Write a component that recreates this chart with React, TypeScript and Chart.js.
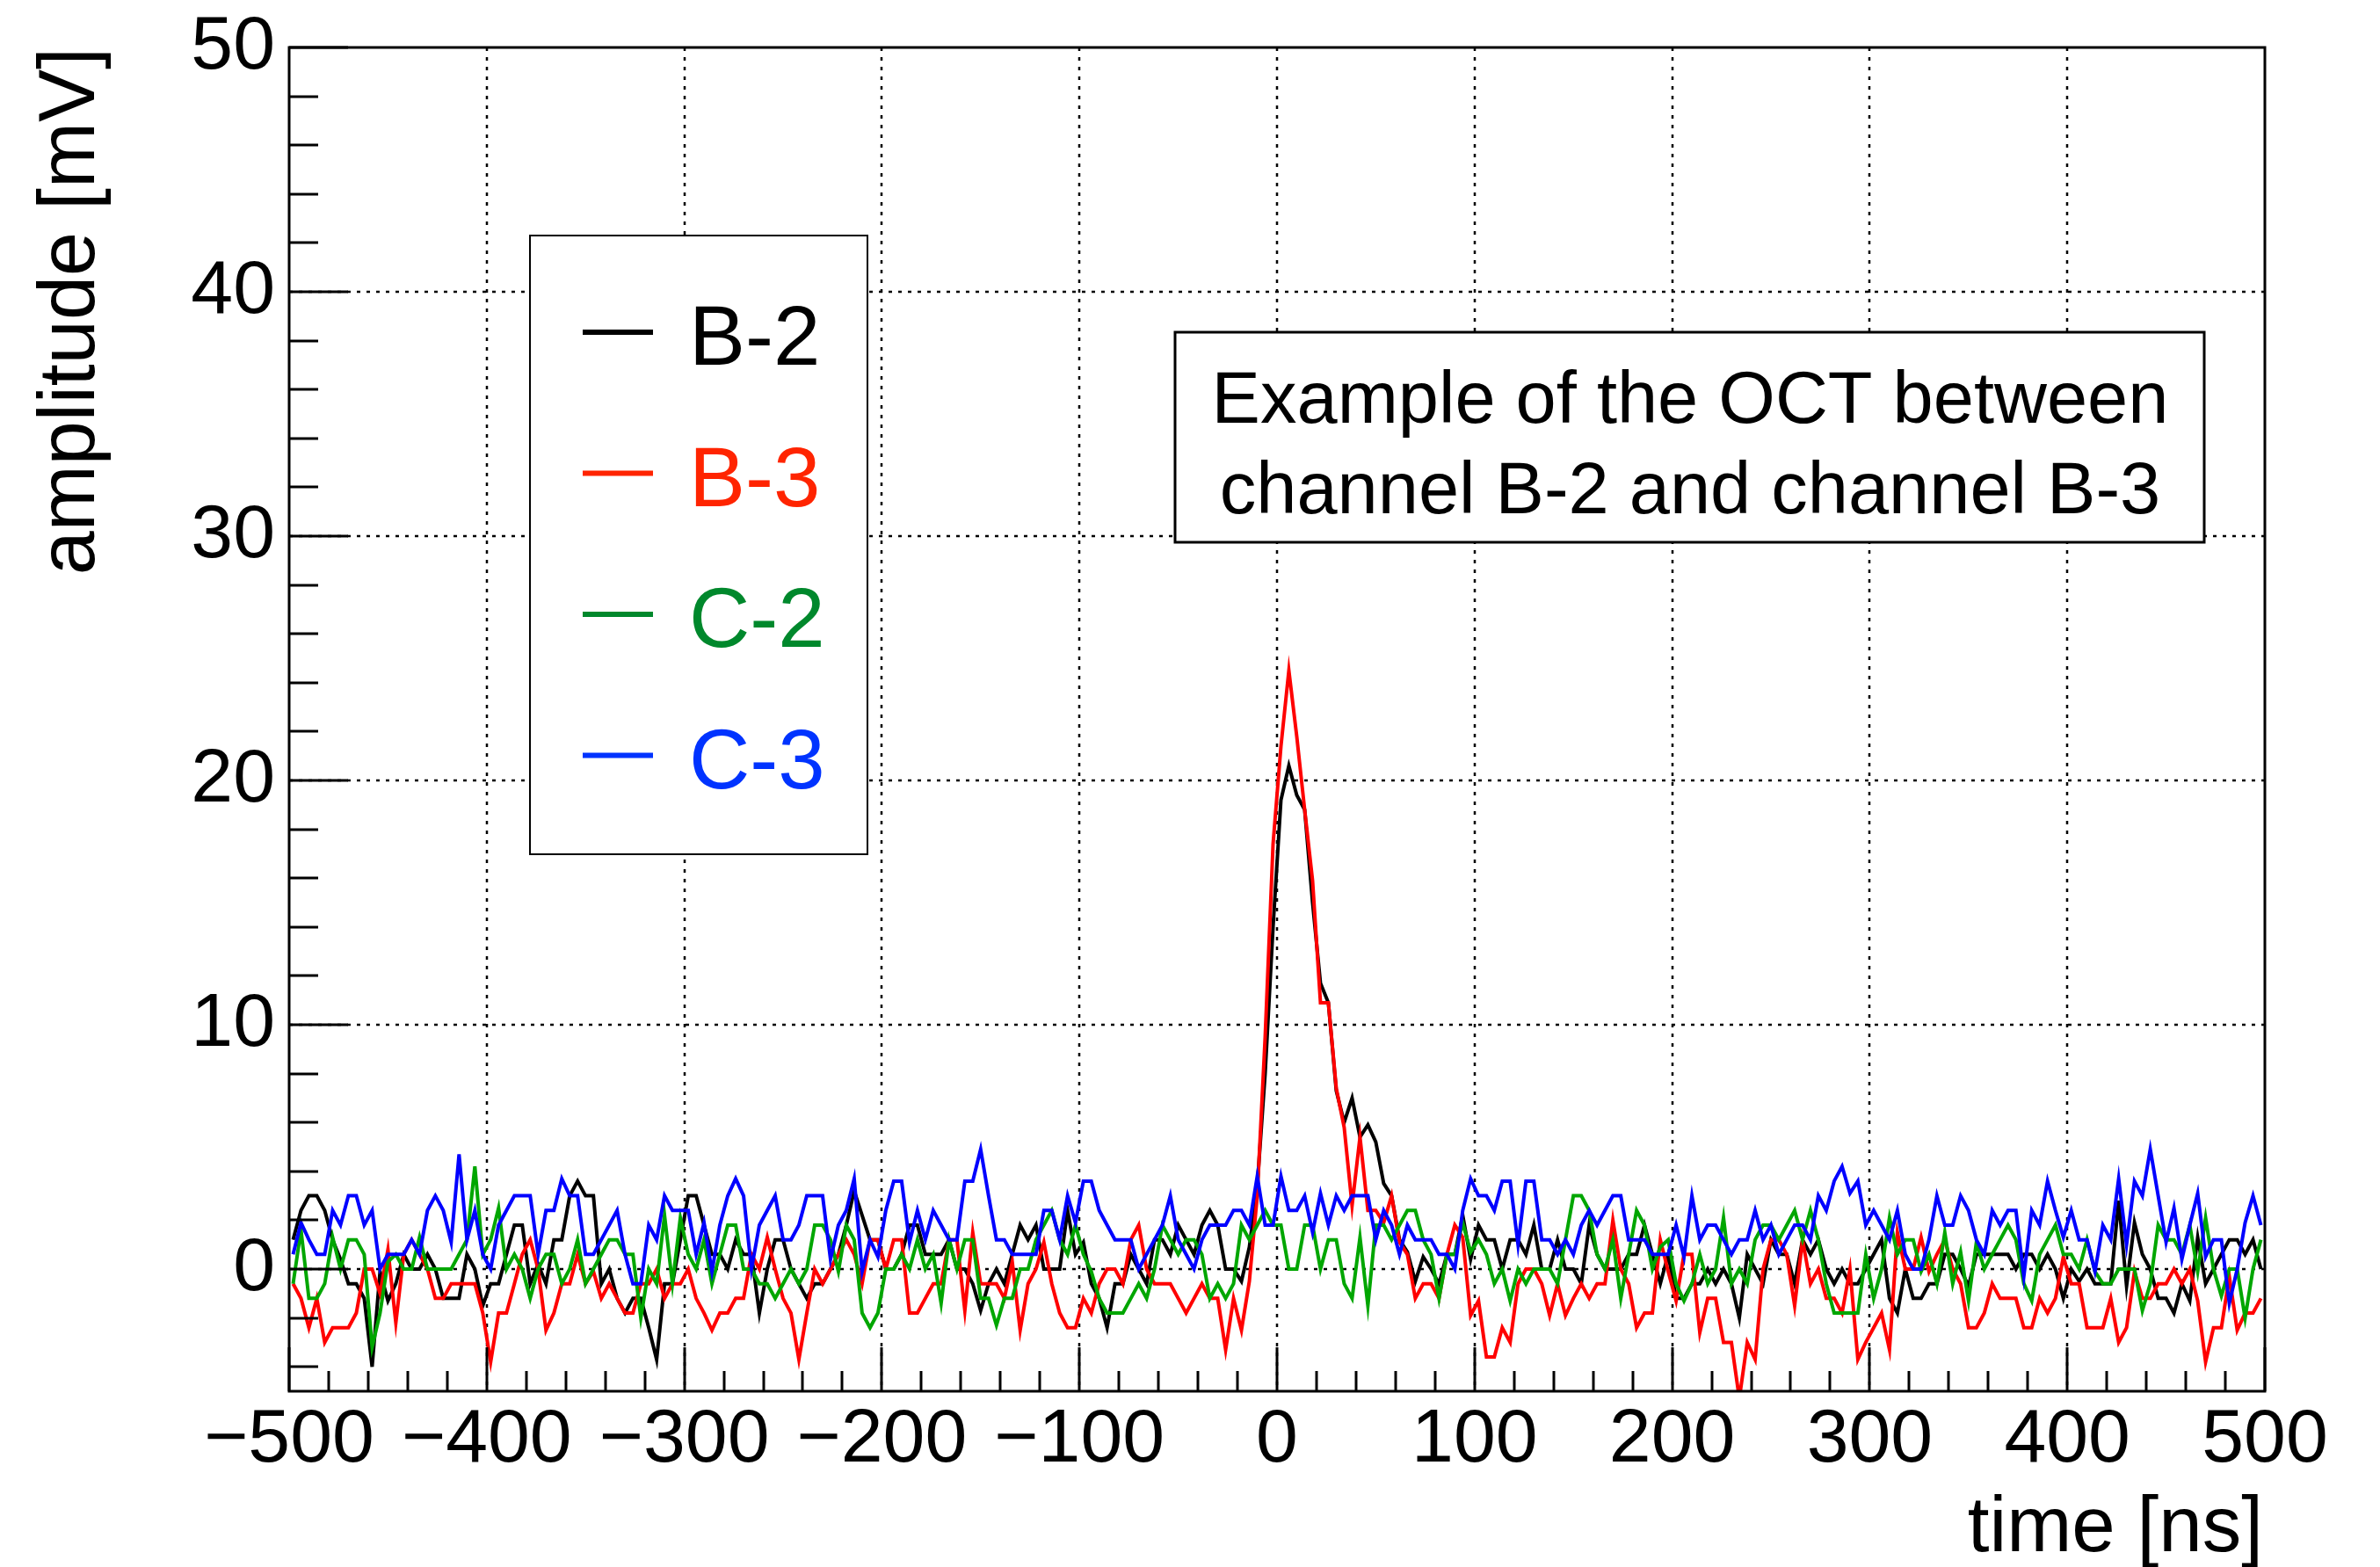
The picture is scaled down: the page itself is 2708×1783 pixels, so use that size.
import { useEffect, useRef } from "react";
import { Chart, registerables } from "chart.js";

Chart.register(...registerables);

// ---- sampling grid (bin centres, 4 ns bins from -500 to 500 ns) ----
const TIME_START_NS = -498;
const TIME_STEP_NS = 4;

// ---- series values [mV] ----
const B2 = [
  1.2, 2.4, 3.0, 3.0, 2.4, 1.2, 0.4, -0.6, -0.6, -1.2, -4.0, -0.1, -1.3, -0.6, 0.6, 0, 0, 0.6, 0, -1.2, -1.2, -1.2, 0.6, 0, -1.5, -0.6, -0.6, 0.6, 1.8, 1.8, -0.6, 0.2,
  -0.6, 1.2, 1.2, 3.0, 3.6, 3.0, 3.0, -0.6, 0, -1.2, -1.8, -1.2, -1.2, -2.4, -3.7, -0.6, -0.6, 1.2, 3.0, 3.0, 1.8, 0.6, 0.6, 0, 1.2, 0.6, 0.6, -1.8, 0, 1.2, 1.2,
  0, -0.6, -1.2, -0.6, -0.6, 0, 0.6, 1.8, 3.2, 2.2, 1.2, 1.2, 0, 0, 0.6, 1.8, 1.8, 0.6, 0.6, 0.6, 1.2, 0, 0, -0.6, -1.7, -0.6, 0, -0.6, 0.6, 1.8, 1.2,
  1.8, 0, 0, 0, 2.4, 0.6, 1.1, -0.6, -1.2, -2.4, -0.6, -0.6, 0.6, 0, -0.6, 1.2, 1.2, 0.6, 1.8, 1.2, 0.6, 1.8, 2.4, 1.8, 0, 0,
  -0.5, 0.9, 3.4, 8.0, 14.0, 19.2, 20.6, 19.4, 18.8, 15.0, 11.7, 10.9, 7.3, 6.0, 7.0, 5.4, 5.9, 5.2, 3.5, 3.0, 1.2, 0.7, -0.5, 0.5,
  0, -0.6, 0.6, 0.6, 2.2, 0.4, 1.8, 1.2, 1.2, 0, 1.2, 1.2, 0.6, 1.8, 0, 0, 1.2, 0, 0, -0.6, 1.8, 0.6, 0, 0, 0, 0.6, 0.6, 1.8, 0.6, -0.6,
  0.6, -1.2, -1.2, -0.6, -0.6, 0, -0.6, 0, -0.6, -2.0, 0.6, 0, -0.6, 1.2, 0.6, 0.6, -0.6, 1.2, 0.6, 1.2, 0, -0.6, 0, -0.6, -0.6, 0, 0.6, 1.2, -1.2, -1.8, 0,
  -1.2, -1.2, -0.6, -0.6, 0.6, 0.6, 0, -0.7, 0.6, 0.6, 0.6, 0.6, 0.6, 0, 0.6, 0.6, 0, 0.6, 0, -1.2, 0, -0.5, 0, -0.6, -0.6, -0.6, 2.8, -0.7, 1.9, 0.6, 0,
  -1.2, -1.2, -1.8, -0.6, -1.3, 1.3, -0.6, 0, 0.6, 1.2, 1.2, 0.6, 1.2, 0,
];

const B3 = [
  -0.6, -1.2, -2.4, -1.2, -3.0, -2.4, -2.4, -2.4, -1.8, 0, 0, -1.0, 0.8, -2.2, 0.6, 1.2, 0.6, 0, -1.2, -1.2, -0.6, -0.6, -0.6, -0.6, -1.8, -3.8, -1.8, -1.8, -0.6, 0.6, 1.2, 0,
  -2.5, -1.8, -0.6, -0.6, 0.6, -0.6, -0.1, -1.2, -0.6, -1.2, -1.8, -1.8, -0.6, -0.6, 0, -1.2, -0.6, -0.6, 0, -1.2, -1.8, -2.5, -1.8, -1.8, -1.2, -1.2, 0.6, 0, 1.3, 0, -1.2,
  -1.8, -3.7, -1.8, 0, -0.6, 0, 0.6, 1.2, 0.6, -0.6, 1.2, 1.2, 0, 1.2, 1.2, -1.8, -1.8, -1.2, -0.6, -0.6, 1.2, 1.2, -1.7, 1.5, -0.6, -0.6, -0.6, -1.2, 0.3, -2.5, -0.6,
  0, 1.1, -0.6, -1.8, -2.4, -2.4, -1.2, -1.8, -0.6, 0, 0, -0.6, 1.2, 1.8, 0, -0.6, -0.6, -0.6, -1.2, -1.8, -1.2, -0.6, -1.2, -1.2, -3.3, -1.2,
  -2.5, -0.5, 3.0, 9.5, 17.4, 21.4, 24.5, 21.8, 18.8, 15.9, 10.9, 10.9, 7.4, 5.8, 2.6, 5.4, 2.4, 2.4, 1.9, 3.0, 1.1, 0.6, -1.2, -0.6,
  -0.6, -1.2, 0.6, 1.8, 1.3, -1.9, -1.3, -3.6, -3.6, -2.4, -3.0, -0.6, 0, 0, -0.6, -1.9, -0.6, -1.9, -1.2, -0.6, -1.2, -0.6, -0.6, 2.0, 0, -0.6, -2.4, -1.8, -1.8, 1.2,
  -0.1, -1.3, 0.6, 0.6, -2.6, -1.2, -1.2, -3.0, -3.0, -5.3, -3.0, -3.7, 0, 1.2, 1.2, 0.6, -1.5, 1.2, -0.6, 0, -1.2, -1.2, -1.8, 0, -3.7, -3.0, -2.4, -1.8, -3.3, 1.5, 0,
  0, 1.3, -0.1, 0.6, 1.2, 0, -0.6, -2.4, -2.4, -1.8, -0.6, -1.2, -1.2, -1.2, -2.4, -2.4, -1.2, -1.8, -1.2, 0.5, -0.6, -0.6, -2.4, -2.4, -2.4, -1.2, -3.0, -2.4, -0.1, -1.2, -1.2,
  -0.6, -0.6, 0, -0.6, 0, -1.3, -3.8, -2.4, -2.4, -0.3, -2.5, -1.8, -1.8, -1.2,
];

const C2 = [
  -0.6, 1.6, -1.2, -1.2, -0.6, 1.3, 0, 1.2, 1.2, 0.6, -3.2, -1.8, 0.3, 0.6, 0, 0, 1.3, 0, 0, 0, 0, 0.6, 1.2, 4.2, 0.6, 1.2, 2.5, 0, 0.6, 0, -1.2, 0,
  0.6, 0.6, -0.6, 0, 1.2, -0.6, 0, 0.6, 1.2, 1.2, 0.6, 0.6, -2.0, 0, -0.6, 2.2, -0.6, 2.1, 0.6, 0, 1.2, -0.6, 0.6, 1.8, 1.8, 0, 0, -0.6, -0.6, -1.2, -0.6,
  0, -0.6, 0, 1.8, 1.8, 1.2, -0.1, 1.8, 1.2, -1.8, -2.4, -1.8, 0, 0, 0.6, 0, 1.2, 0, 0.6, -1.4, 1.2, 0, 1.2, 1.2, -1.2, -1.2, -2.3, -1.2, -1.2, 0, 0,
  1.2, 1.8, 2.4, 1.2, 0.6, 1.8, 0.6, -0.1, -1.2, -1.8, -1.8, -1.8, -1.2, -0.6, -1.2, 0, 1.8, 1.2, 0.6, 1.2, 1.2, 0.6, -1.2, -0.6, -1.2, -0.6,
  1.8, 1.2, 1.8, 2.4, 1.8, 1.8, 0, 0, 1.8, 1.8, 0, 1.2, 1.2, -0.6, -1.2, 1.3, -1.5, 1.8, 1.8, 1.2, 1.8, 2.4, 2.4, 1.2,
  0.6, -1.2, 0.6, 0.6, 1.9, 0.7, 1.2, 0.6, -0.6, 0, -1.3, 0, -0.6, 0, 0, 0, -0.6, 1.2, 3.0, 3.0, 2.4, 0.6, 0, 1.2, -1.2, 0.6, 2.4, 1.8, 0, 0.9,
  1.2, -0.6, -1.3, -0.6, 0.6, -0.6, 0, 2.1, -0.6, 0, -0.6, 1.2, 1.8, 1.8, 1.2, 1.8, 2.4, 1.2, 2.4, 1.2, -0.6, -1.8, -1.8, -1.8, -1.8, 0.6, -1.2, 0, 2.1, 0.6, 1.2,
  1.2, -0.1, 0.6, -0.6, 1.5, -0.6, 0.7, -1.3, 1.1, 0, 0.6, 1.2, 1.8, 1.2, -0.6, -1.3, 0.6, 1.2, 1.8, 0.6, 0.6, 0, 1.2, -0.1, -0.6, -0.6, 0, 0, 0, -1.7, -0.6,
  1.8, 1.2, 1.2, 0.6, 1.8, -0.1, 2.1, 0, -1.1, 0, 0, -2.0, 0, 1.2,
];

const C3 = [
  0.6, 1.9, 1.2, 0.6, 0.6, 2.4, 1.8, 3.0, 3.0, 1.8, 2.4, 0, 0.6, 0.6, 0.6, 1.2, 0.6, 2.4, 3.0, 2.4, 1.1, 4.7, 1.2, 2.4, 0.6, 0, 1.8, 2.4, 3.0, 3.0, 3.0, 0.6,
  2.4, 2.4, 3.7, 3.0, 3.0, 0.6, 0.6, 1.2, 1.8, 2.4, 0.6, -0.6, -0.6, 1.8, 1.2, 3.0, 2.4, 2.4, 2.4, 0.6, 1.9, -0.1, 1.8, 3.0, 3.7, 3.0, 0, 1.8, 2.4, 3.0, 1.2,
  1.2, 1.8, 3.0, 3.0, 3.0, 0.4, 1.8, 2.4, 3.7, -0.1, 1.2, 0.5, 2.4, 3.6, 3.6, 1.1, 2.4, 1.2, 2.4, 1.8, 1.2, 1.2, 3.6, 3.6, 4.9, 3.0, 1.2, 1.2, 0.6, 0.6, 0.6,
  0.6, 2.4, 2.4, 1.2, 3.0, 1.9, 3.6, 3.6, 2.4, 1.8, 1.2, 1.2, 1.2, 0, 0.6, 1.2, 1.8, 3.0, 1.2, 0.6, 0, 1.2, 1.8, 1.8, 1.8, 2.4,
  2.4, 1.8, 3.8, 1.8, 1.8, 3.8, 2.4, 2.4, 3.0, 1.5, 3.1, 1.8, 3.0, 2.4, 3.0, 3.0, 3.0, 1.2, 2.4, 1.8, 0.6, 1.8, 1.2, 1.2,
  1.2, 0.6, 0.6, 0, 2.4, 3.7, 3.0, 3.0, 2.4, 3.6, 3.6, 1.0, 3.6, 3.6, 1.2, 1.2, 0.6, 1.2, 0.6, 1.8, 2.4, 1.8, 2.4, 3.0, 3.0, 1.2, 1.2, 1.2, 0.6, 0.6,
  0.6, 1.8, 0.5, 3.0, 1.2, 1.8, 1.8, 1.2, 0.6, 1.2, 1.2, 2.4, 1.2, 1.8, 0.6, 1.2, 1.8, 1.8, 1.2, 3.0, 2.4, 3.6, 4.2, 3.1, 3.6, 1.8, 2.4, 1.8, 1.2, 2.4, 0.6,
  0, 0, 1.2, 3.0, 1.8, 1.8, 3.0, 2.4, 1.2, 0.6, 2.4, 1.8, 2.4, 2.4, -0.3, 2.4, 1.8, 3.6, 2.4, 1.3, 2.4, 1.2, 1.2, -0.1, 1.8, 1.2, 3.7, 1.0, 3.6, 3.0, 4.9,
  3.0, 1.1, 2.5, 0.4, 1.8, 3.1, 0.5, 1.2, 1.2, -1.4, 0, 1.9, 3.0, 1.8,
];

// ---- axes ----
const X_MIN = -500;
const X_MAX = 500;
const Y_MIN = -5;
const Y_MAX = 50;
const X_TICKS = [-500, -400, -300, -200, -100, 0, 100, 200, 300, 400, 500];
const Y_TICKS = [0, 10, 20, 30, 40, 50];
const X_MINOR_STEP = 20;
const Y_MINOR_STEP = 2;

const X_TITLE = "time [ns]";
const Y_TITLE = "amplitude [mV]";
const NOTE_LINES = ["Example of the OCT between", "channel B-2 and channel B-3"];

const SERIES_LABELS = ["B-2", "B-3", "C-2", "C-3"];
const SERIES_VALUES = [B2, B3, C2, C3];
const LINE_COLORS = ["#000000", "#ff0000", "#00a600", "#0000ff"];
const LEGEND_COLORS = ["#000000", "#ff2400", "#00882c", "#0033ff"];

const FONT = '"Liberation Sans", Arial, Helvetica, sans-serif';

const fmtTick = (v: number) => (v < 0 ? "\u2212" + Math.abs(v) : String(v));

const rootStyle = {
  id: "rootStyle",
  beforeDatasetsDraw(chart: any) {
    const { ctx, chartArea: a, scales } = chart;
    const x = scales.x;
    const y = scales.y;
    ctx.save();
    ctx.strokeStyle = "#000";
    ctx.lineWidth = 2.5;
    ctx.setLineDash([4, 7]);
    for (const v of X_TICKS) {
      if (v <= X_MIN || v >= X_MAX) continue;
      const px = Math.round(x.getPixelForValue(v));
      ctx.beginPath();
      ctx.moveTo(px, a.top);
      ctx.lineTo(px, a.bottom);
      ctx.stroke();
    }
    for (const v of Y_TICKS) {
      if (v <= Y_MIN || v >= Y_MAX) continue;
      const py = Math.round(y.getPixelForValue(v));
      ctx.beginPath();
      ctx.moveTo(a.left, py);
      ctx.lineTo(a.right, py);
      ctx.stroke();
    }
    ctx.restore();
  },
  afterDatasetsDraw(chart: any) {
    const { ctx, chartArea: a, scales } = chart;
    const x = scales.x;
    const y = scales.y;
    ctx.save();
    ctx.setLineDash([]);
    ctx.strokeStyle = "#000";

    // ticks inside the frame
    ctx.lineWidth = 3;
    for (let v = X_MIN; v <= X_MAX; v += X_MINOR_STEP) {
      const major = v % 100 === 0;
      const px = Math.round(x.getPixelForValue(v));
      ctx.beginPath();
      ctx.moveTo(px, a.bottom);
      ctx.lineTo(px, a.bottom - (major ? 50 : 23));
      ctx.stroke();
    }
    for (let v = -4; v <= Y_MAX; v += Y_MINOR_STEP) {
      const major = v % 10 === 0;
      const py = Math.round(y.getPixelForValue(v));
      ctx.beginPath();
      ctx.moveTo(a.left, py);
      ctx.lineTo(a.left + (major ? 67 : 33), py);
      ctx.stroke();
    }

    // frame
    ctx.lineWidth = 3;
    ctx.strokeRect(a.left, a.top, a.right - a.left, a.bottom - a.top);

    // legend box
    ctx.fillStyle = "#fff";
    ctx.fillRect(603, 268, 384, 704);
    ctx.lineWidth = 2;
    ctx.strokeRect(603, 268, 384, 704);
    ctx.font = `96px ${FONT}`;
    ctx.textAlign = "left";
    ctx.textBaseline = "alphabetic";
    SERIES_LABELS.forEach((lab, i) => {
      const base = 415 + i * 160.5;
      ctx.strokeStyle = LEGEND_COLORS[i];
      ctx.lineWidth = 6;
      ctx.beginPath();
      ctx.moveTo(663, base - 37);
      ctx.lineTo(743, base - 37);
      ctx.stroke();
      ctx.fillStyle = LEGEND_COLORS[i];
      ctx.fillText(lab, 784, base);
    });

    // note box
    ctx.fillStyle = "#fff";
    ctx.fillRect(1337, 378, 1171, 239);
    ctx.strokeStyle = "#000";
    ctx.lineWidth = 3;
    ctx.strokeRect(1337, 378, 1171, 239);
    ctx.fillStyle = "#000";
    ctx.font = `83px ${FONT}`;
    ctx.textAlign = "center";
    ctx.fillText(NOTE_LINES[0], 1923, 481);
    ctx.fillText(NOTE_LINES[1], 1923, 584);

    // axis titles
    ctx.font = `89px ${FONT}`;
    ctx.textAlign = "right";
    ctx.fillText(X_TITLE, a.right - 2, 1765);

    ctx.save();
    ctx.translate(107, a.top);
    ctx.rotate(-Math.PI / 2);
    ctx.font = `90px ${FONT}`;
    ctx.textAlign = "right";
    ctx.fillText(Y_TITLE, 0, 0);
    ctx.restore();

    ctx.restore();
  },
};

export default function App() {
  const ref = useRef<HTMLCanvasElement | null>(null);

  useEffect(() => {
    document.body.style.margin = "0";
    document.body.style.overflow = "hidden";
    const canvas = ref.current;
    if (!canvas) return;

    const datasets = SERIES_VALUES.map((vals, i) => ({
      label: SERIES_LABELS[i],
      data: vals.map((v, k) => ({ x: TIME_START_NS + k * TIME_STEP_NS, y: v })),
      borderColor: LINE_COLORS[i],
      backgroundColor: LINE_COLORS[i],
      borderWidth: 4,
      pointRadius: 0,
      tension: 0,
      fill: false,
      order: 3 - i,
    }));

    const chart = new Chart(canvas, {
      type: "line",
      data: { datasets },
      plugins: [rootStyle],
      options: {
        responsive: false,
        animation: false,
        devicePixelRatio: 1,
        layout: { padding: { left: 0, top: 54, right: 131, bottom: 0 } },
        plugins: { legend: { display: false }, tooltip: { enabled: false } },
        scales: {
          x: {
            type: "linear",
            min: X_MIN,
            max: X_MAX,
            grid: { display: false, drawTicks: false },
            border: { display: false },
            afterBuildTicks: (s: any) => {
              s.ticks = X_TICKS.map((v) => ({ value: v }));
            },
            afterFit: (s: any) => {
              s.height = 200;
              s.paddingLeft = 0;
              s.paddingRight = 0;
            },
            ticks: {
              color: "#000",
              font: { family: FONT, size: 86 },
              padding: 5,
              maxRotation: 0,
              autoSkip: false,
              callback: (v: any) => fmtTick(Number(v)),
            },
          },
          y: {
            type: "linear",
            min: Y_MIN,
            max: Y_MAX,
            grid: { display: false, drawTicks: false },
            border: { display: false },
            afterBuildTicks: (s: any) => {
              s.ticks = Y_TICKS.map((v) => ({ value: v }));
            },
            afterFit: (s: any) => {
              s.width = 329;
              s.paddingTop = 0;
              s.paddingBottom = 0;
            },
            ticks: {
              color: "#000",
              font: { family: FONT, size: 86 },
              padding: 16,
              autoSkip: false,
              callback: (v: any) => fmtTick(Number(v)),
            },
          },
        },
      },
    } as any);

    return () => chart.destroy();
  }, []);

  return <canvas ref={ref} width={2708} height={1783} style={{ display: "block" }} />;
}
